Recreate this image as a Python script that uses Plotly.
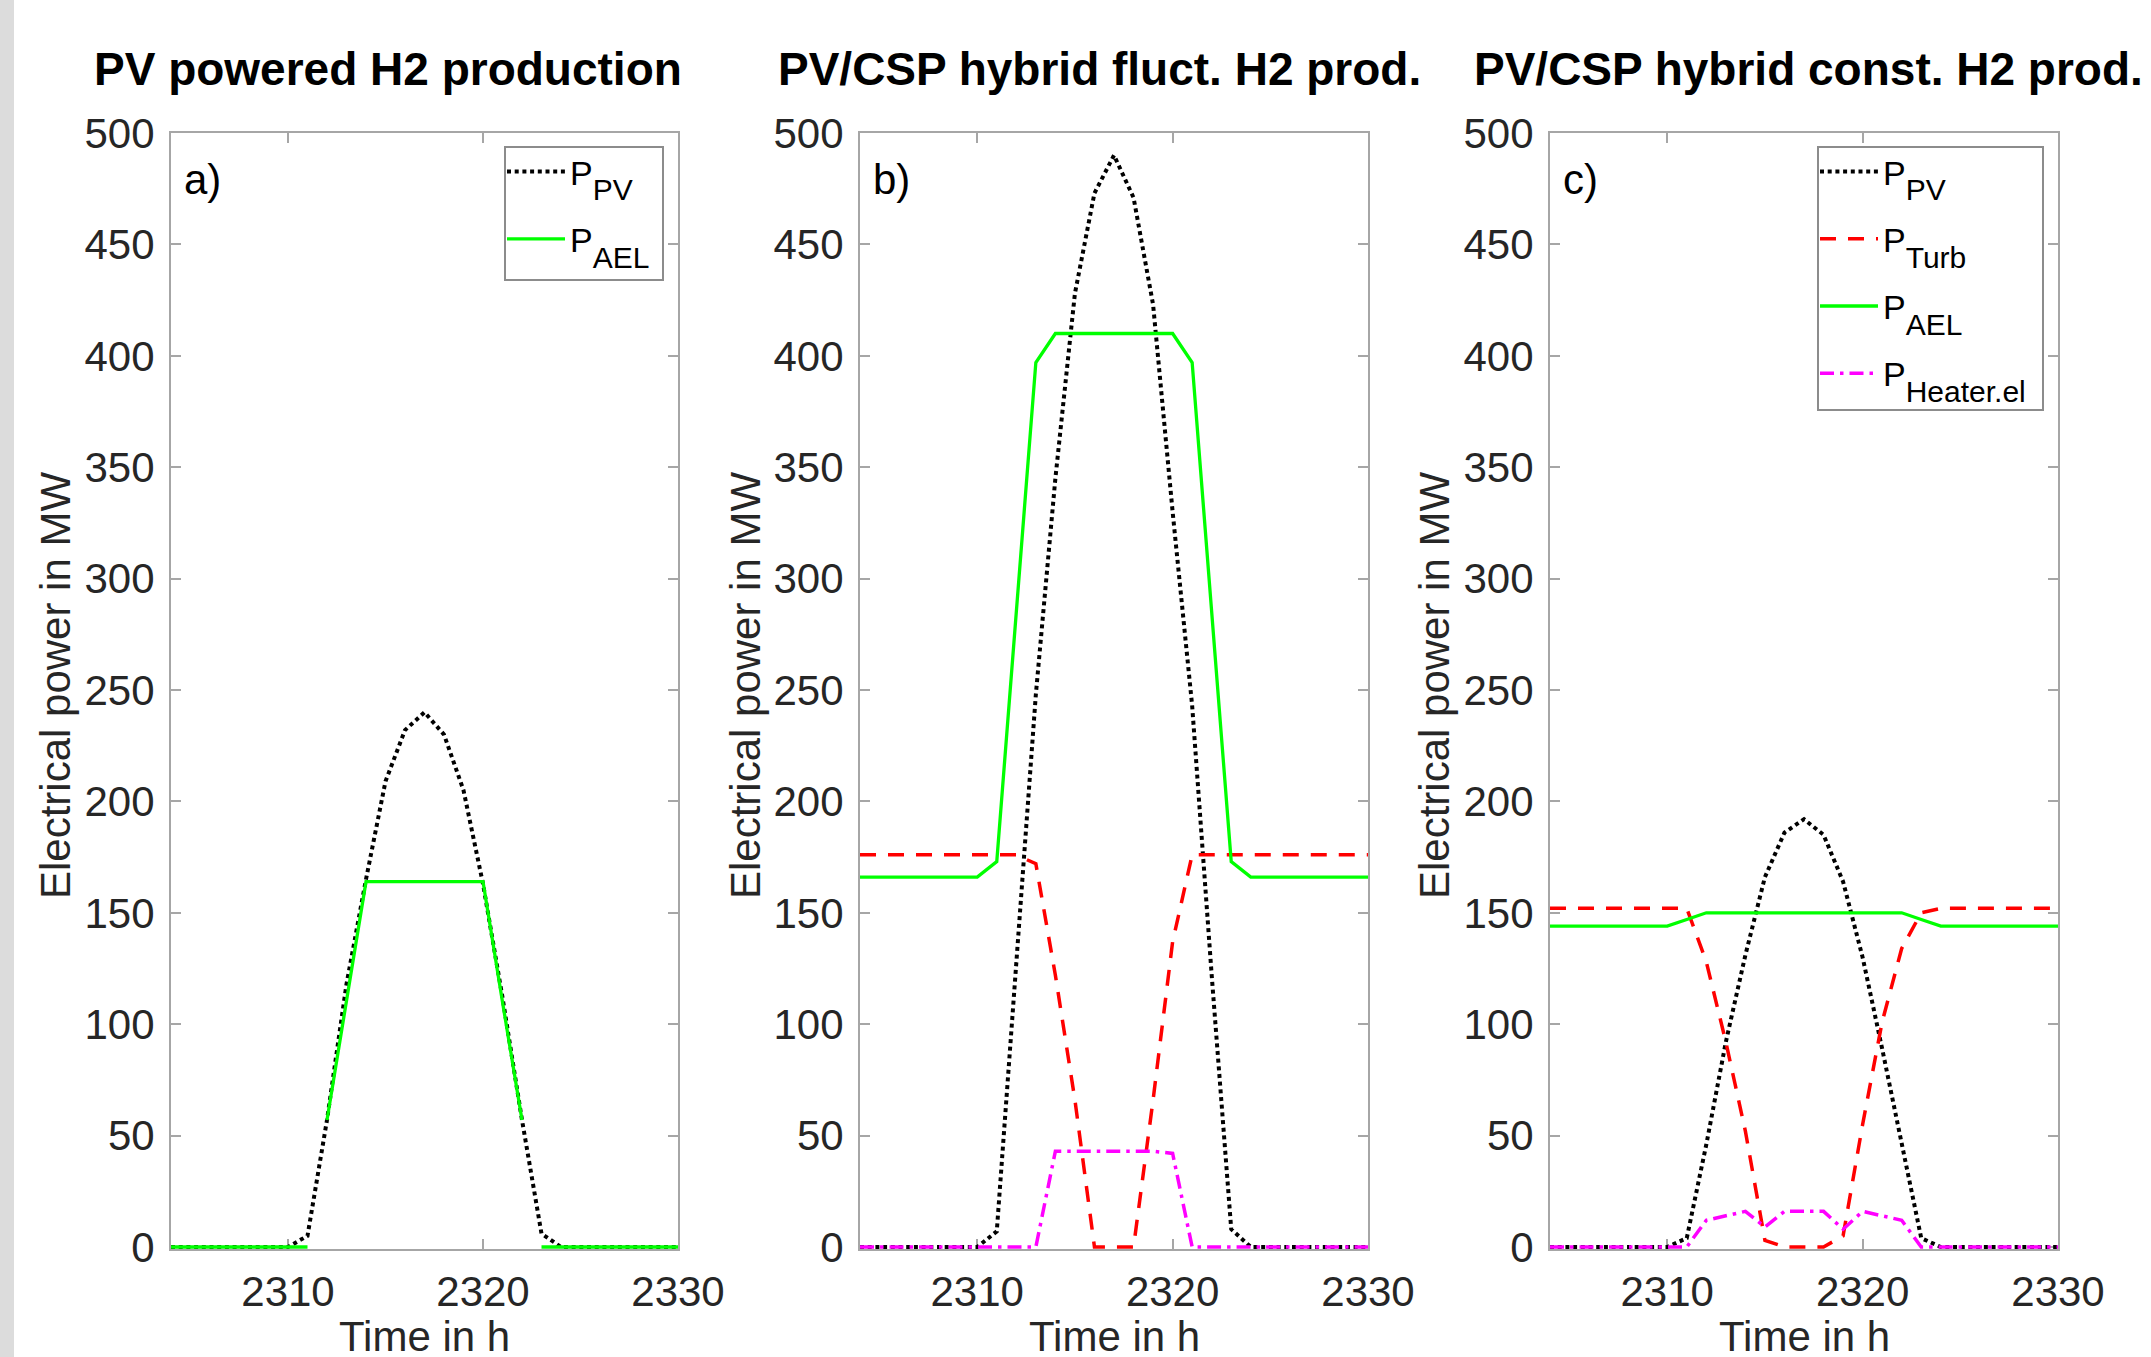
import plotly.graph_objects as go

# ---------------- data ----------------
hours = list(range(2304, 2331))

# a) PV powered H2 production
pv_a = [0, 0, 0, 0, 0, 0, 0, 5, 57, 118, 165, 209, 232, 240, 230, 205, 163, 112, 57, 6,
        0, 0, 0, 0, 0, 0, 0]
ael_a = [0, 0, 0, 0, 0, 0, 0, 0, 57, 110, 164, 164, 164, 164, 164, 164, 164, 110, 57, 0,
         0, 0, 0, 0, 0, 0, 0]
ael_a_breaks = [2311, 2322]  # AEL switched off (below minimum load) between these hours

# b) PV/CSP hybrid fluct. H2 prod.
pv_b = [0, 0, 0, 0, 0, 0, 0, 7, 125, 248, 345, 428, 473, 490, 471, 423, 330, 243, 122, 8,
        0, 0, 0, 0, 0, 0, 0]
turb_b = [176, 176, 176, 176, 176, 176, 176, 176, 176, 172, 122, 66, 0, 0, 0, 66, 137, 176,
          176, 176, 176, 176, 176, 176, 176, 176, 176]
ael_b = [166, 166, 166, 166, 166, 166, 166, 173, 285, 397, 410, 410, 410, 410, 410, 410, 410,
         397, 285, 173, 166, 166, 166, 166, 166, 166, 166]
heater_b = [0, 0, 0, 0, 0, 0, 0, 0, 0, 0, 43, 43, 43, 43, 43, 43, 42, 0, 0, 0,
            0, 0, 0, 0, 0, 0, 0]

# c) PV/CSP hybrid const. H2 prod.
pv_c = [0, 0, 0, 0, 0, 0, 0, 4, 46, 92, 131, 166, 186, 192, 185, 164, 130, 89, 46, 4,
        0, 0, 0, 0, 0, 0, 0]
turb_c = [152, 152, 152, 152, 152, 152, 152, 152, 128, 92, 52, 3, 0, 0, 0, 5, 55, 101, 134, 150,
          152, 152, 152, 152, 152, 152, 152]
ael_c = [144, 144, 144, 144, 144, 144, 144, 147, 150, 150, 150, 150, 150, 150, 150, 150, 150,
         150, 150, 147, 144, 144, 144, 144, 144, 144, 144]
heater_c = [0, 0, 0, 0, 0, 0, 0, 0, 12, 14, 16, 9, 16, 16, 16, 8, 16, 14, 12, 0,
            0, 0, 0, 0, 0, 0, 0]

titles = ["PV powered H2 production", "PV/CSP hybrid fluct. H2 prod.", "PV/CSP hybrid const. H2 prod."]
panel_labels = ["a)", "b)", "c)"]
x_ticks = [2310, 2320, 2330]
y_ticks = [0, 50, 100, 150, 200, 250, 300, 350, 400, 450, 500]
x_title = "Time in h"
y_title = "Electrical power in MW"
subscripts = {"pv": "PV", "turb": "Turb", "ael": "AEL", "heater": "Heater,el"}

# ---------------- style ----------------
W, H = 2151, 1357
FONT = "Liberation Sans, Arial, Helvetica, sans-serif"
TXT = "#262626"
AX = "#a6a6a6"
SUB_SIZE = 30
style = {
    "pv": dict(color="black", width=4, dash="4px,3.7px"),
    "turb": dict(color="#ff0000", width=3.5, dash="16px,12px"),
    "ael": dict(color="#00ff00", width=3.3),
    "heater": dict(color="#ff00ff", width=3.5, dash="14px,6px,3.5px,6px"),
}


def legend_name(key):
    # deep subscript (MATLAB-like low baseline) with explicit size
    return ("P<sub><sub><sub><span style='font-size:%dpx'>%s</span></sub></sub></sub>"
            % (SUB_SIZE, subscripts[key]))


def with_breaks(xs, ys, breaks):
    X, Y = [], []
    for x, y in zip(xs, ys):
        X.append(x)
        Y.append(y)
        if x in breaks:
            X.append(None)
            Y.append(None)
    return X, Y


fig = go.Figure()

# panel a
fig.add_trace(go.Scatter(x=hours, y=pv_a, mode="lines", name=legend_name("pv"), line=style["pv"],
                         xaxis="x", yaxis="y", legend="legend", legendgroup="a_pv"))
xa, ya = with_breaks(hours, ael_a, ael_a_breaks)
fig.add_trace(go.Scatter(x=xa, y=ya, mode="lines", name=legend_name("ael"), line=style["ael"],
                         connectgaps=False, xaxis="x", yaxis="y", legend="legend",
                         legendgroup="a_ael"))

# panel b
for key, vals in [("pv", pv_b), ("turb", turb_b), ("ael", ael_b), ("heater", heater_b)]:
    fig.add_trace(go.Scatter(x=hours, y=vals, mode="lines", name=legend_name(key), line=style[key],
                             xaxis="x2", yaxis="y2", showlegend=False))

# panel c
for key, vals in [("pv", pv_c), ("turb", turb_c), ("ael", ael_c), ("heater", heater_c)]:
    fig.add_trace(go.Scatter(x=hours, y=vals, mode="lines", name=legend_name(key), line=style[key],
                             xaxis="x3", yaxis="y3", legend="legend2", legendgroup="c_" + key))

x_domains = [[171 / W, 678 / W], [860 / W, 1368 / W], [1550 / W, 2058 / W]]
# y axis runs from -1 (tiny pad so zero-level lines are not half clipped) to 500
px_per_unit = (1247 - 133) / 500
y_domain = [(H - (1247 + px_per_unit)) / H, (H - 133) / H]

axis_common = dict(showline=True, linecolor=AX, linewidth=2, mirror="ticks", ticks="inside",
                   ticklen=10, tickwidth=2, tickcolor=AX, showgrid=False, zeroline=False,
                   automargin=False,
                   tickfont=dict(family=FONT, size=42, color=TXT), layer="below traces")

layout = dict(width=W, height=H, margin=dict(l=0, r=0, t=0, b=0, autoexpand=False),
              paper_bgcolor="white", plot_bgcolor="white", font=dict(family=FONT, color=TXT))
for i in range(3):
    sx = "" if i == 0 else str(i + 1)
    layout["xaxis" + sx] = dict(domain=x_domains[i], range=[2304, 2330], tickvals=x_ticks,
                                anchor="y" + sx, ticklabelstandoff=4, **axis_common)
    layout["yaxis" + sx] = dict(domain=y_domain, range=[-1, 500], tickvals=y_ticks,
                                anchor="x" + sx, ticklabelstandoff=6, **axis_common)

# legend frames (drawn as shapes so the frame can be sized like the reference)
legend_boxes = [(505, 147, 663, 280), (1818, 147, 2043, 410)]
legend_common = dict(bgcolor="rgba(0,0,0,0)", borderwidth=0,
                     font=dict(family=FONT, size=34, color="black"), itemwidth=58,
                     xanchor="left", yanchor="top", tracegroupgap=20)
layout["legend"] = dict(x=(legend_boxes[0][0] - 3) / W, y=1 - (legend_boxes[0][1] - 4) / H,
                        **legend_common)
layout["legend2"] = dict(x=(legend_boxes[1][0] - 3) / W, y=1 - (legend_boxes[1][1] - 4) / H,
                         **legend_common)
fig.update_layout(**layout)

for (x0, y0, x1, y1) in legend_boxes:
    fig.add_shape(type="rect", xref="paper", yref="paper", x0=x0 / W, x1=x1 / W,
                  y0=1 - y1 / H, y1=1 - y0 / H, fillcolor="white",
                  line=dict(color="#8c8c8c", width=2), layer="above")

ann = []
title_centers = [388, 1099, 1808]
ytitle_x = [55, 745, 1434]
for i in range(3):
    ann.append(dict(text="<b>" + titles[i] + "</b>", x=title_centers[i] / W, y=1 - 69 / H,
                    xref="paper", yref="paper", xanchor="center", yanchor="middle",
                    showarrow=False, font=dict(family=FONT, size=46, color="black")))
    ann.append(dict(text=panel_labels[i], x=(x_domains[i][0] * W + 11) / W, y=1 - 180 / H,
                    xref="paper", yref="paper", xanchor="left", yanchor="middle",
                    showarrow=False, font=dict(family=FONT, size=42, color="black")))
    ann.append(dict(text=y_title, x=ytitle_x[i] / W, y=1 - 686 / H, textangle=-90,
                    xref="paper", yref="paper", xanchor="center", yanchor="middle",
                    showarrow=False, font=dict(family=FONT, size=42, color=TXT)))
    ann.append(dict(text=x_title, x=sum(x_domains[i]) / 2, y=1 - 1336 / H,
                    xref="paper", yref="paper", xanchor="center", yanchor="middle",
                    showarrow=False, font=dict(family=FONT, size=42, color=TXT)))
fig.update_layout(annotations=ann)

fig.add_shape(type="rect", xref="paper", yref="paper", x0=0, x1=14 / W, y0=0, y1=1,
              fillcolor="#dcdcdc", line=dict(width=0), layer="below")

fig.write_html(
    "out.html",
    config={"displayModeBar": False},
    post_script="document.body.style.margin='0';document.body.style.overflow='hidden';"
                "document.documentElement.style.overflow='hidden';",
)
